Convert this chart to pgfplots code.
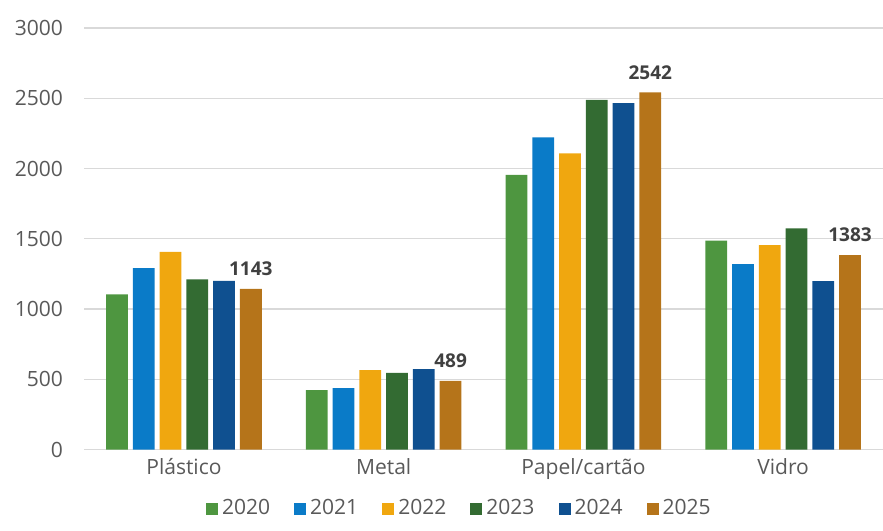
\documentclass[border=0pt]{standalone}
\usepackage{pgfplots}
\pgfplotsset{compat=1.18}
\usepackage{fontspec}
\setmainfont{Open Sans}
\definecolor{c20}{HTML}{4E9640}
\definecolor{c21}{HTML}{0A7BC8}
\definecolor{c22}{HTML}{F0A70F}
\definecolor{c23}{HTML}{336B32}
\definecolor{c24}{HTML}{0F5090}
\definecolor{c25}{HTML}{B5741A}
\definecolor{txt}{HTML}{595959}
\definecolor{grd}{HTML}{D9D9D9}
\begin{document}
\begin{tikzpicture}
\useasboundingbox (-42pt,-40.5pt) rectangle (399pt,224.5pt);
\begin{axis}[
  at={(0,0)}, anchor=south west,
  scale only axis, width=399pt, height=210.5pt,
  xmin=-0.5, xmax=3.5, ymin=0, ymax=3000,
  ytick={0,500,...,3000},
  xtick={0,1,2,3},
  xticklabels={Plástico,Metal,Papel/cartão,Vidro},
  axis line style={draw=none},
  major tick length=0pt,
  ymajorgrids, grid style={grd, line width=0.6pt},
  tick label style={font=\fontsize{10.5}{12}\selectfont, text=txt},
  yticklabel style={xshift=-7pt},
  xticklabel style={yshift=-1pt},
  /pgf/number format/assume math mode=true,
  /pgf/number format/set thousands separator={},
  ybar, bar width=0.109,
  every axis plot/.append style={draw=none},
  legend style={draw=none, at={(0.471,-0.14)}, anchor=center,
    legend columns=6, font=\fontsize{10.5}{12}\selectfont, text=txt,
    /tikz/every even column/.append style={column sep=10pt}},
  legend image code/.code={\fill[#1] (0pt,-3pt) rectangle (6pt,3pt);},
]
\addplot[fill=c20, bar shift=-0.335] coordinates {(0,1104) (1,422) (2,1954) (3,1486)};
\addplot[fill=c21, bar shift=-0.201] coordinates {(0,1291) (1,437) (2,2222) (3,1320)};
\addplot[fill=c22, bar shift=-0.067] coordinates {(0,1407) (1,565) (2,2108) (3,1455)};
\addplot[fill=c23, bar shift=0.067] coordinates {(0,1211) (1,546) (2,2488) (3,1574)};
\addplot[fill=c24, bar shift=0.201] coordinates {(0,1201) (1,572) (2,2466) (3,1199)};
\addplot[fill=c25, bar shift=0.335, nodes near coords,
  every node near coord/.style={font=\bfseries\fontsize{9.5}{11}\selectfont, text=black!75, yshift=3pt, xshift=33.4pt}]
  coordinates {(0,1143) (1,489) (2,2542) (3,1383)};
\legend{2020,2021,2022,2023,2024,2025}
\end{axis}
\end{tikzpicture}
\end{document}
